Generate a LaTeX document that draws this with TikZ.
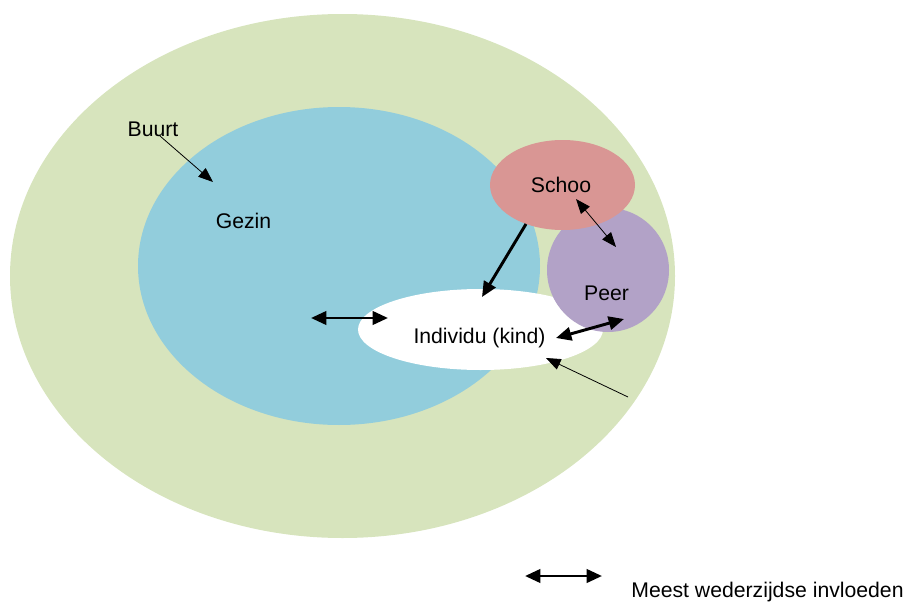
\documentclass[tikz,border=0pt]{standalone}
\usepackage{fontspec}
\setmainfont{Liberation Sans}
\usepackage{tikz}
\usetikzlibrary{arrows.meta}

\definecolor{buurtgreen}{RGB}{215,228,189}
\definecolor{gezinblue}{RGB}{146,205,220}
\definecolor{schoolred}{RGB}{217,150,148}
\definecolor{peerpurple}{RGB}{178,162,199}

\begin{document}
\begin{tikzpicture}[x=0.75pt,y=0.75pt,yscale=-1,xscale=1,
  lbl/.style={inner sep=0.75pt,font=\fontsize{15.9}{18}\selectfont},
  infl/.style={line width=2.2pt,{Triangle[length=11.5pt,width=10pt]}-{Triangle[length=11.5pt,width=10pt]}},
  thin/.style={line width=0.6pt,-{Triangle[length=11pt,width=8.5pt]}},
  thinboth/.style={line width=0.6pt,{Triangle[length=11pt,width=8.5pt]}-{Triangle[length=11pt,width=8.5pt]}}]
%set diagram left start at 0, and has height of 603
\path (0,0) rectangle (907,603);

%Shape: Ellipse [buurt]
\fill [buurtgreen] (342.5,276) ellipse [x radius=332.5, y radius=262];
%Shape: Ellipse [gezin]
\fill [gezinblue] (339,266) ellipse [x radius=201, y radius=159];
%Shape: Ellipse [individu]
\fill [white] (480.5,329.5) ellipse [x radius=122.5, y radius=40.5];
%Shape: Circle [peer]
\fill [peerpurple] (608,270) ellipse [x radius=61, y radius=62];
%Shape: Ellipse [school]
\fill [schoolred] (562.5,185) ellipse [x radius=72.5, y radius=45];

% Text Node
\draw (153,129) node [lbl] (buurt) {Buurt};
% Text Node
\draw (243.5,221) node [lbl] (gezin) {Gezin};
% Text Node
\draw (561,185) node [lbl] (schoo) {Schoo};
% Text Node
\draw (606.5,293) node [lbl] (peer) {Peer};
% Text Node
\draw (479.5,338) node [lbl] (kind) {Individu (kind)};
% Text Node
\draw (767.5,592) node [lbl] (legend) {Meest wederzijdse invloeden};

%arrow ends
\coordinate (b1) at (160,136);
\coordinate (b2) at (213,182);
\coordinate (g1) at (311,318);
\coordinate (g2) at (388,318);
\coordinate (s1) at (526,224);
\coordinate (s2) at (482,297);
\coordinate (sp1) at (576,199);
\coordinate (sp2) at (616,247);
\coordinate (pk1) at (556,338);
\coordinate (pk2) at (624,319);
\coordinate (o1) at (628,397);
\coordinate (o2) at (546,358);
\coordinate (l1) at (525,576);
\coordinate (l2) at (602,576);

\draw [thin] (b1) -- (b2);
\draw [infl] (g1) -- (g2);
\draw [line width=2.2pt,-{Triangle[length=11.5pt,width=10pt]}] (s1) -- (s2);
\draw [thinboth] (sp1) -- (sp2);
\draw [infl] (pk1) -- (pk2);
\draw [thin] (o1) -- (o2);
\draw [infl] (l1) -- (l2);

\end{tikzpicture}
\end{document}
